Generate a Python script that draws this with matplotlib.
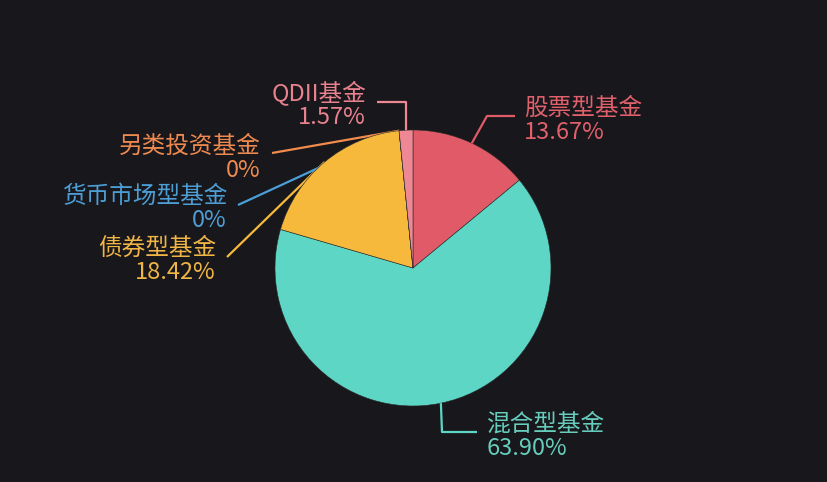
import numpy as np
import matplotlib
matplotlib.use('Agg')
import matplotlib.pyplot as plt

plt.rcParams['font.family'] = ['Noto Sans CJK SC', 'DejaVu Sans']

# fund type breakdown, clockwise from the top
names = ['股票型基金', '混合型基金', '债券型基金', '货币市场型基金', '另类投资基金', 'QDII基金']
values = [13.67, 63.90, 18.42, 0.0, 0.0, 1.57]
pct_labels = ['13.67%', '63.90%', '18.42%', '0%', '0%', '1.57%']
colors = ['#e05b67', '#5dd6c6', '#f6b93b', '#4b9fd9', '#f28b4e', '#ee8894']
text_colors = ['#e0606c', '#66cdbd', '#f0b545', '#4e9ed6', '#ee8a50', '#e8828f']

W, H = 828, 482
BG = '#18171b'
cx, cy, R = 413, 268, 138

# leader line elbows / ends and text anchors (pixel coords)
elbows = [(487, 116), (442, 432), None, None, None, (406, 102)]
ends = [(515, 116), (477, 432), (227, 257), (238, 205), (272, 153), (377, 102)]
text_pos = [(524, 117, 'left'), (487, 433, 'left'), (216, 257, 'right'),
            (227, 205, 'right'), (261, 155, 'right'), (366, 102, 'right')]

fig = plt.figure(figsize=(W / 100, H / 100), dpi=100, facecolor=BG)
ax = fig.add_axes([0, 0, 1, 1])
ax.set_facecolor(BG)

# y axis is flipped, so counterclockwise in data is clockwise on screen
ax.pie(values, colors=colors, center=(cx, cy), radius=R, startangle=-90,
       counterclock=True, wedgeprops=dict(linewidth=0.4, edgecolor='#2a2a2a'),
       frame=True)
ax.set_xlim(0, W)
ax.set_ylim(H, 0)
ax.set_aspect('auto')
ax.axis('off')

total = sum(values)
cum = np.cumsum([0] + values)
for i, name in enumerate(names):
    mid = (cum[i] + values[i] / 2) / total * 2 * np.pi
    sx = cx + R * np.sin(mid)
    sy = cy - R * np.cos(mid)
    pts = [(sx, sy)]
    if elbows[i] is not None:
        pts.append(elbows[i])
    pts.append(ends[i])
    xs, ys = zip(*pts)
    ax.plot(xs, ys, color=colors[i], lw=1.6, zorder=0 if values[i] == 0 or i == 2 else 3,
            solid_capstyle='butt')
    tx, ty, ha = text_pos[i]
    ax.text(tx, ty + 3, name, color=text_colors[i], fontsize=17, ha=ha, va='bottom')
    ax.text(tx, ty + 4, pct_labels[i], color=text_colors[i], fontsize=17, ha=ha, va='top')

fig.savefig('out.png', dpi=100, facecolor=BG)
